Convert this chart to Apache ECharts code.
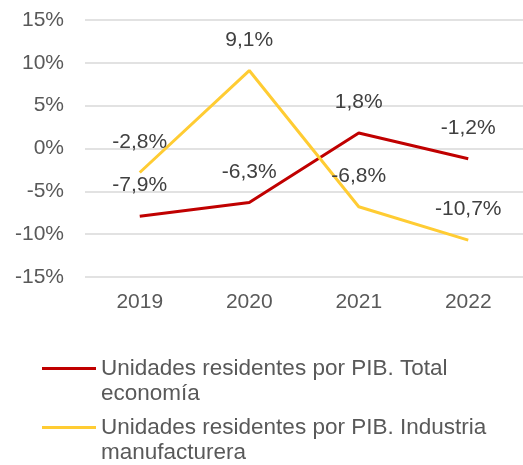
<!DOCTYPE html>
<html><head><meta charset="utf-8">
<script src="https://cdn.jsdelivr.net/npm/echarts@6/dist/echarts.min.js"></script>
<style>html,body{margin:0;padding:0;background:#fff}#c{width:523px;height:465px}</style>
</head><body><div id="c"></div>
<script>
const categories = ['2019', '2020', '2021', '2022'];
const totalEconomia = [-7.9, -6.3, 1.8, -1.2];
const industriaManufacturera = [-2.8, 9.1, -6.8, -10.7];
const seriesNames = ['Unidades residentes por PIB. Total economía', 'Unidades residentes por PIB. Industria manufacturera'];
const yTicks = { min: -15, max: 15, interval: 5 };

const font = 'Liberation Sans';
const fmt = v => (v + '').replace('.', ',') + '%';
const lineIcon = 'path://M0 0h0.01v0.01h-0.01Z M0 11H54V14H0Z M0 49.99h0.01v0.01h-0.01Z';

function legendFor(name, top) {
  return {
    orient: 'vertical', left: 42, top: top, padding: 0,
    itemWidth: 54, itemHeight: 50, itemGap: 0,
    icon: lineIcon,
    textStyle: { color: '#595959', fontSize: 22.5, fontFamily: font, width: 395, overflow: 'break', lineHeight: 25 },
    data: [name]
  };
}

const chart = echarts.init(document.getElementById('c'));
chart.setOption({
  animation: false,
  grid: { left: 85, right: 0, top: 20, bottom: 188 },
  xAxis: {
    type: 'category', data: categories,
    axisLine: { show: false }, axisTick: { show: false },
    axisLabel: { color: '#595959', fontSize: 21, fontFamily: font, margin: 15 }
  },
  yAxis: {
    type: 'value', min: yTicks.min, max: yTicks.max, interval: yTicks.interval,
    axisLabel: { color: '#595959', fontSize: 21, fontFamily: font, margin: 21, formatter: v => v + '%' },
    splitLine: { lineStyle: { color: '#D9D9D9', width: 1.5 } },
    axisLine: { show: false }, axisTick: { show: false }
  },
  legend: [legendFor(seriesNames[0], 356), legendFor(seriesNames[1], 415)],
  series: [
    { name: seriesNames[0], type: 'line', data: totalEconomia, color: '#C00000',
      lineStyle: { width: 3, color: '#C00000' }, symbol: 'circle', symbolSize: 0.1, showSymbol: true,
      label: { show: true, position: 'top', distance: 20, color: '#404040', fontSize: 21, fontFamily: font, formatter: p => fmt(p.value) } },
    { name: seriesNames[1], type: 'line', data: industriaManufacturera, color: '#FFCC33',
      lineStyle: { width: 3, color: '#FFCC33' }, symbol: 'circle', symbolSize: 0.1, showSymbol: true,
      label: { show: true, position: 'top', distance: 20, color: '#404040', fontSize: 21, fontFamily: font, formatter: p => fmt(p.value) } }
  ]
});
</script></body></html>
